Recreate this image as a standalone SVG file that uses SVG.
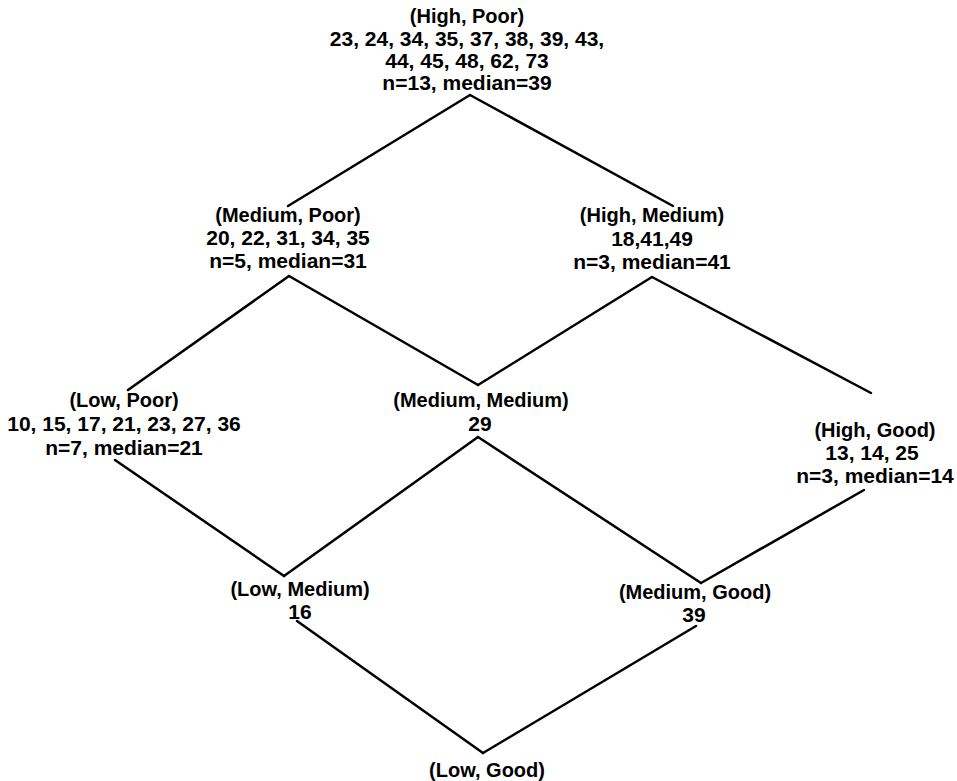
<svg xmlns="http://www.w3.org/2000/svg" width="957" height="781" viewBox="0 0 957 781">
<style>
text{font-family:"Liberation Sans",Arial,Helvetica,sans-serif;font-weight:bold;fill:#000;text-anchor:middle}
.l{font-size:20px}
.v{font-size:21px}
.c line{stroke:#000;stroke-width:2.5;stroke-linecap:round}
</style>
<rect width="957" height="781" fill="#fff"/>
<g class="c" id="connectors">
<line x1="470" y1="95" x2="288" y2="206"/>
<line x1="470" y1="95" x2="673" y2="206"/>
<line x1="289" y1="276" x2="128" y2="390"/>
<line x1="289" y1="276" x2="478" y2="385"/>
<line x1="652" y1="277" x2="478" y2="385"/>
<line x1="652" y1="277" x2="871" y2="393"/>
<line x1="115" y1="460" x2="284" y2="576"/>
<line x1="478" y1="437" x2="284" y2="576"/>
<line x1="478" y1="437" x2="701" y2="583"/>
<line x1="864" y1="490" x2="701" y2="583"/>
<line x1="297" y1="621" x2="483" y2="753"/>
<line x1="696" y1="626" x2="483" y2="753"/>
</g>
<g id="high-poor">
<text class="l" x="467" y="23">(High, Poor)</text>
<text class="v" x="467" y="46">23, 24, 34, 35, 37, 38, 39, 43,</text>
<text class="v" x="467" y="68">44, 45, 48, 62, 73</text>
<text class="v" x="467" y="90">n=13, median=39</text>
</g>
<g id="medium-poor">
<text class="l" x="288" y="222">(Medium, Poor)</text>
<text class="v" x="288" y="245">20, 22, 31, 34, 35</text>
<text class="v" x="288" y="268">n=5, median=31</text>
</g>
<g id="high-medium">
<text class="l" x="652" y="222">(High, Medium)</text>
<text class="v" x="652" y="246">18,41,49</text>
<text class="v" x="652" y="269">n=3, median=41</text>
</g>
<g id="low-poor">
<text class="l" x="124" y="407">(Low, Poor)</text>
<text class="v" x="124" y="431">10, 15, 17, 21, 23, 27, 36</text>
<text class="v" x="124" y="455">n=7, median=21</text>
</g>
<g id="medium-medium">
<text class="l" x="481" y="407">(Medium, Medium)</text>
<text class="v" x="480" y="431">29</text>
</g>
<g id="high-good">
<text class="l" x="875" y="437">(High, Good)</text>
<text class="v" x="872" y="460">13, 14, 25</text>
<text class="v" x="875" y="483">n=3, median=14</text>
</g>
<g id="low-medium">
<text class="l" x="300" y="596">(Low, Medium)</text>
<text class="v" x="300" y="619">16</text>
</g>
<g id="medium-good">
<text class="l" x="695" y="599">(Medium, Good)</text>
<text class="v" x="694" y="622">39</text>
</g>
<g id="low-good">
<text class="l" x="487" y="777">(Low, Good)</text>
</g>
</svg>
